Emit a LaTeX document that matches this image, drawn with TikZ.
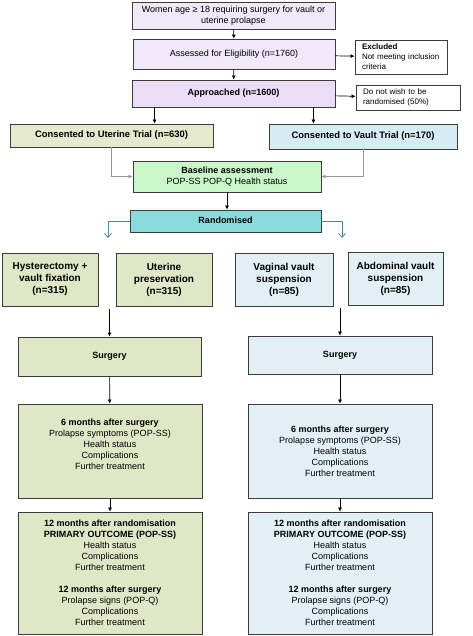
\documentclass[tikz,border=0pt]{standalone}
\usepackage{fontspec}
\setmainfont{Liberation Sans}
\usetikzlibrary{arrows.meta}

\definecolor{lilac}{RGB}{241,232,249}
\definecolor{lilacdark}{RGB}{234,221,245}
\definecolor{olivebox}{RGB}{229,233,205}
\definecolor{olivearm}{RGB}{224,231,199}
\definecolor{bluebox}{RGB}{214,236,245}
\definecolor{bluearm}{RGB}{226,240,246}
\definecolor{basegreen}{RGB}{201,247,201}
\definecolor{randteal}{RGB}{138,220,220}
\definecolor{branchteal}{RGB}{80,138,140}
\definecolor{edgegray}{RGB}{60,60,60}

\begin{document}
\begin{tikzpicture}[x=1pt, y=-1pt,
    every node/.style={font=\fontsize{9}{11}\selectfont},
    box/.style={draw=edgegray, line width=0.8pt, align=center, inner sep=1pt},
    armbox/.style={box, font=\fontsize{10}{12}\selectfont\bfseries, minimum height=53pt},
    note/.style={draw=edgegray, line width=0.8pt, align=left, fill=white, inner xsep=7pt, inner ysep=1pt,
        font=\fontsize{8}{10}\selectfont},
    arr/.style={-{Latex[length=4pt,width=4pt]}, line width=0.7pt},
    garr/.style={-{Latex[length=4pt,width=4pt]}, line width=0.7pt, draw=gray!80},
    barr/.style={-{Straight Barb[length=4pt,width=7pt]}, line width=0.8pt, draw=branchteal}]
    \useasboundingbox (0,0) rectangle (472,636);

    % Recruitment
    \node[box, fill=lilac, minimum width=203pt, minimum height=27pt] (women) at (233.5,15.5)
        {Women age ≥ 18 requiring surgery for vault or\\uterine prolapse};
    \node[box, fill=lilac, minimum width=202pt, minimum height=30pt] (assess) at (234,54)
        {Assessed for Eligibility (n=1760)};
    \node[note, text width=78pt, minimum height=34pt] (excl) at (401,57)
        {\textbf{Excluded}\\Not meeting inclusion\\criteria};
    \node[box, fill=lilacdark, minimum width=203pt, minimum height=27pt] (approach) at (233.5,93.5)
        {\textbf{Approached (n=1600)}};
    \node[note, text width=90pt, minimum height=25pt] (nowish) at (408,97.5)
        {Do not wish to be\\randomised (50\%)};

    \draw[arr] (women) -- (assess);
    \draw[arr] (assess) -- (excl);
    \draw[arr] (assess) -- (approach);
    \draw[arr] (approach) -- (nowish);

    % Trials
    \node[box, fill=olivebox, minimum width=203pt, minimum height=23pt, font=\fontsize{9.4}{11}\selectfont] (uterine) at (111.5,135.5)
        {\textbf{Consented to Uterine Trial (n=630)}};
    \node[box, fill=bluebox, minimum width=188pt, minimum height=25pt, font=\fontsize{9.4}{11}\selectfont] (vault) at (363,136.5)
        {\textbf{Consented to Vault Trial (n=170)}};
    \node[box, fill=basegreen, minimum width=188pt, minimum height=31pt] (baseline) at (227,176.5)
        {\textbf{Baseline assessment}\\POP-SS POP-Q Health status};
    \node[box, fill=randteal, minimum width=191pt, minimum height=22pt] (random) at (225.5,221)
        {\raisebox{2pt}{\textbf{Randomised}}};

    \draw[arr] ([xshift=23pt]approach.south west) -- ([xshift=23pt]approach.south west |- uterine.north);
    \draw[arr] ([xshift=-22pt]approach.south east) -- ([xshift=-22pt]approach.south east |- vault.north);
    \draw[garr] (uterine.south) |- (baseline.west);
    \draw[garr] (vault.south) |- (baseline.east);
    \draw[arr] (baseline.south) -- (baseline.south |- random.north);

    \coordinate (brL) at (108,238);
    \coordinate (brR) at (342,238);
    \draw[barr] (random.west) -| (brL);
    \draw[barr] (random.east) -| (brR);

    % Arms
    \node[armbox, fill=olivearm, minimum width=96pt] (hyst) at (50,279.5)
        {Hysterectomy +\\vault fixation\\(n=315)};
    \node[armbox, fill=olivearm, minimum width=96pt] (upres) at (164,279.5)
        {Uterine\\preservation\\(n=315)};
    \node[armbox, fill=bluearm, minimum width=98pt] (vagv) at (284,279.5)
        {Vaginal vault\\suspension\\(n=85)};
    \node[armbox, fill=bluearm, minimum width=95pt] (abdv) at (395.5,278.5)
        {Abdominal vault\\suspension\\(n=85)};

    % Follow-up
    \node[box, fill=olivearm, minimum width=183pt, minimum height=39pt] (surgL) at (109.5,356.5)
        {\textbf{Surgery}};
    \node[box, fill=bluearm, minimum width=184pt, minimum height=38pt] (surgR) at (340,355)
        {\textbf{Surgery}};

    \coordinate (armL) at (109.5,309);
    \coordinate (armR) at (340,308);
    \draw[arr] (armL) -- (surgL.north);
    \draw[arr] (armR) -- (surgR.north);

    \node[box, fill=olivearm, minimum width=184pt, minimum height=94pt] (sixL) at (110,451)
        {\textbf{6 months after surgery}\\Prolapse symptoms (POP-SS)\\Health status\\Complications\\Further treatment\\[3pt]};
    \node[box, fill=bluearm, minimum width=184pt, minimum height=94pt] (sixR) at (340,451)
        {\textbf{6 months after surgery}\\Prolapse symptoms (POP-SS)\\Health status\\Complications\\Further treatment};
    \node[box, fill=olivearm, minimum width=184pt, minimum height=122pt] (twelveL) at (110,573)
        {\textbf{12 months after randomisation}\\\textbf{PRIMARY OUTCOME (POP-SS)}\\Health status\\Complications\\Further treatment\\[11pt]
         \textbf{12 months after surgery}\\Prolapse signs (POP-Q)\\Complications\\Further treatment};
    \node[box, fill=bluearm, minimum width=184pt, minimum height=122pt] (twelveR) at (340,573)
        {\textbf{12 months after randomisation}\\\textbf{PRIMARY OUTCOME (POP-SS)}\\Health status\\Complications\\Further treatment\\[11pt]
         \textbf{12 months after surgery}\\Prolapse signs (POP-Q)\\Complications\\Further treatment};

    \draw[arr] (surgL) -- (sixL);
    \draw[arr] (sixL) -- (twelveL);
    \draw[arr] (surgR) -- (sixR);
    \draw[arr] (sixR) -- (twelveR);
\end{tikzpicture}
\end{document}
